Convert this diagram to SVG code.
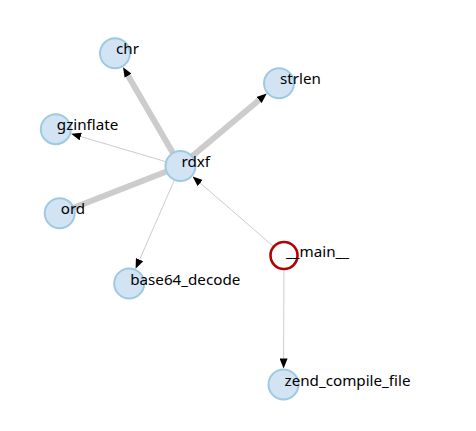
<svg xmlns="http://www.w3.org/2000/svg" width="476" height="431" viewBox="0 0 476 431">
<style>
.link{stroke:#cccccc;fill:none}
.thin{stroke-width:1}
.thick{stroke-width:6}
.node circle{fill:#d2e3f3;stroke:#9ecae1;stroke-width:2}
.node.main circle{fill:#ffffff;stroke:#b30000;stroke-width:2.6}
.node text{font-family:"Noto Sans","Liberation Sans",Arial,sans-serif;font-size:15.2px;fill:#000}
</style>
<defs>
<marker id="arrow" viewBox="0 -4 10 8" refX="0" refY="0" markerWidth="10" markerHeight="8" markerUnits="userSpaceOnUse" orient="auto">
<path d="M0,-4L10,0L0,4Z" fill="#000"/>
</marker>
</defs>
<rect width="476" height="431" fill="#ffffff"/>
<g id="links">
<line class="link thick" x1="180.5" y1="166" x2="128.07" y2="75.78" marker-end="url(#arrow)"/>
<line class="link thick" x1="180.5" y1="166" x2="259.09" y2="100.02" marker-end="url(#arrow)"/>
<line class="link thick" x1="180.5" y1="166" x2="59.7" y2="213.3"/>
<line class="link thin" x1="180.5" y1="166" x2="80.74" y2="136.56" marker-end="url(#arrow)"/>
<line class="link thin" x1="180.5" y1="166" x2="139.6" y2="259.67" marker-end="url(#arrow)"/>
<line class="link thin" x1="284" y1="255.5" x2="200.17" y2="183.01" marker-end="url(#arrow)"/>
<line class="link thin" x1="284" y1="255.5" x2="283.6" y2="358.5" marker-end="url(#arrow)"/>
</g>
<g id="node-chr" class="node"><circle cx="115" cy="53.3" r="15"/><text x="116" y="54.3">chr</text></g>
<g id="node-strlen" class="node"><circle cx="279" cy="83.3" r="15"/><text x="280" y="84.3">strlen</text></g>
<g id="node-gzinflate" class="node"><circle cx="55.8" cy="129.2" r="15"/><text x="56.8" y="130.2">gzinflate</text></g>
<g id="node-rdxf" class="node"><circle cx="180.5" cy="166" r="15"/><text x="181.5" y="167">rdxf</text></g>
<g id="node-ord" class="node"><circle cx="59.7" cy="213.3" r="15"/><text x="60.7" y="214.3">ord</text></g>
<g id="node-base64_decode" class="node"><circle cx="129.2" cy="283.5" r="15"/><text x="130.2" y="284.5">base64_decode</text></g>
<g id="node-main" class="node main"><circle cx="284" cy="255.5" r="13.5"/><text x="286" y="256.5">__main__</text></g>
<g id="node-zend_compile_file" class="node"><circle cx="283.5" cy="384.5" r="15"/><text x="284.5" y="385.5">zend_compile_file</text></g>
</svg>
